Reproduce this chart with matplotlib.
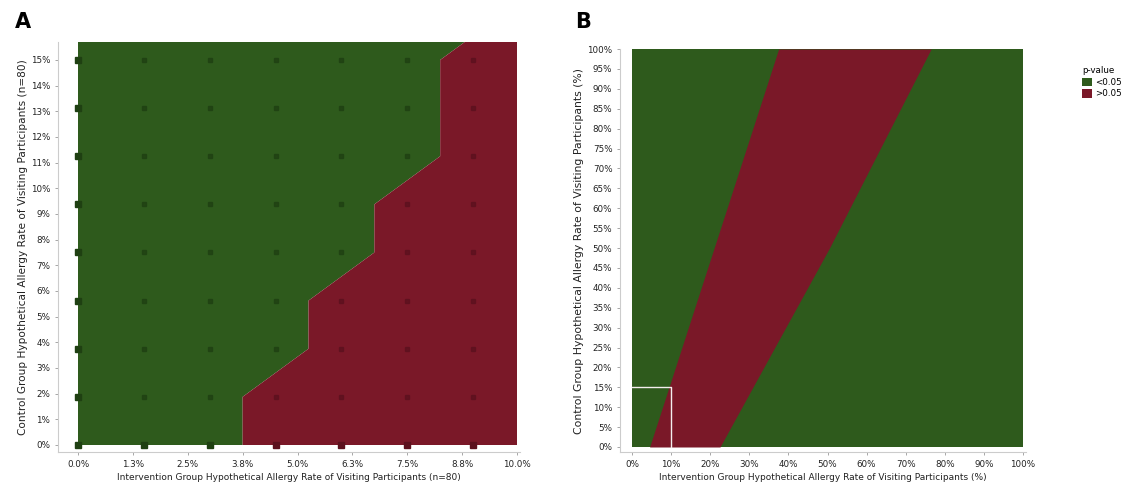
import matplotlib
matplotlib.use("Agg")
import matplotlib.pyplot as plt
import numpy as np
from matplotlib.patches import Rectangle, Patch

# ---------------- data ----------------
# Panel A: grid of hypothetical rates (%), last column / row extend past the visible range
a_x = [0.0, 1.5, 3.0, 4.5, 6.0, 7.5, 9.0, 10.5]
a_y = [0.0, 1.875, 3.75, 5.625, 7.5, 9.375, 11.25, 13.125, 15.0, 16.875]
# 1 = p > 0.05 (not significant), 0 = p < 0.05
a_nonsig = [
    [0, 0, 0, 1, 1, 1, 1, 1],
    [0, 0, 0, 1, 1, 1, 1, 1],
    [0, 0, 0, 0, 1, 1, 1, 1],
    [0, 0, 0, 0, 1, 1, 1, 1],
    [0, 0, 0, 0, 0, 1, 1, 1],
    [0, 0, 0, 0, 0, 1, 1, 1],
    [0, 0, 0, 0, 0, 0, 1, 1],
    [0, 0, 0, 0, 0, 0, 1, 1],
    [0, 0, 0, 0, 0, 0, 1, 1],
    [0, 0, 0, 0, 0, 0, 0, 1],
]
a_xticks = [0.0, 1.25, 2.5, 3.75, 5.0, 6.25, 7.5, 8.75, 10.0]
a_xticklabels = ["0.0%", "1.3%", "2.5%", "3.8%", "5.0%", "6.3%", "7.5%", "8.8%", "10.0%"]
a_yticks = list(range(0, 16))
a_yticklabels = [f"{v}%" for v in a_yticks]
a_xmax, a_ymax = 10.0, 15.7

# Panel B: boundaries of the non-significant band (x in %, at given y in %)
b_y = [0, 50, 100]
b_left = [4.5, 21.0, 37.5]
b_right = [22.5, 50.5, 76.5]
b_xticks = list(range(0, 101, 10))
b_yticks = list(range(0, 101, 5))
box_x, box_y = 10.0, 15.0

green = "#2e5a1c"
red = "#7a1828"
dark_green = "#1f4012"
dark_red = "#5c111e"
spine_col = "#cccccc"

W, H = 1129, 493
fig = plt.figure(figsize=(W / 100, H / 100), dpi=100)

def px_axes(l, t, r, b):
    return fig.add_axes([l / W, 1 - b / H, (r - l) / W, (b - t) / H])

def style(ax):
    for s in ("top", "right"):
        ax.spines[s].set_visible(False)
    for s in ("left", "bottom"):
        ax.spines[s].set_color(spine_col)
        ax.spines[s].set_linewidth(0.8)
    ax.tick_params(colors="#999999", labelcolor="#222222", labelsize=6.3, length=2, width=0.6)

# ---------------- Panel A ----------------
axA = px_axes(58, 42, 520, 452)
style(axA)
Z = np.array(a_nonsig, dtype=float)
cs = axA.contourf(a_x, a_y, Z, levels=[-0.5, 0.5, 1.5], colors=[green, red], antialiased=True)
clip = Rectangle((0, 0), a_xmax, a_ymax, transform=axA.transData, visible=False)
axA.add_patch(clip)
cs.set_clip_path(clip)
for j, yv in enumerate(a_y[:9]):
    for i, xv in enumerate(a_x[:7]):
        c = dark_red if a_nonsig[j][i] else dark_green
        edge = (i == 0 or j == 0)
        axA.plot(xv, yv, marker="s", ms=4 if edge else 3.2, color=c, mec=c,
                 alpha=1.0 if edge else 0.8, clip_on=False, zorder=3)
px_x = (517 - 78) / a_xmax
px_y = (445 - 42) / a_ymax
axA.set_xlim(-20 / px_x, a_xmax + 3 / px_x)
axA.set_ylim(-7 / px_y, a_ymax)
axA.set_xticks(a_xticks)
axA.set_xticklabels(a_xticklabels)
axA.set_yticks(a_yticks)
axA.set_yticklabels(a_yticklabels)
axA.set_xlabel("Intervention Group Hypothetical Allergy Rate of Visiting Participants (n=80)",
               fontsize=6.5, color="#222222", labelpad=3)
axA.set_ylabel("Control Group Hypothetical Allergy Rate of Visiting Participants (n=80)",
               fontsize=7.6, color="#222222", labelpad=2)
fig.text(15 / W, 1 - 22 / H, "A", fontsize=15, fontweight="bold", va="center", ha="left")

# ---------------- Panel B ----------------
axB = px_axes(620, 49, 1026, 452)
style(axB)
axB.add_patch(Rectangle((0, 0), 100, 100, facecolor=green, edgecolor="none", zorder=0))
axB.fill_betweenx(b_y, b_left, b_right, color=red, lw=0, zorder=1)
axB.plot([0, box_x, box_x], [box_y, box_y, 0], color="#f4eeee", lw=1.0, zorder=2)
pbx = (1023 - 632) / 100
pby = (447 - 49) / 100
axB.set_xlim(-12 / pbx, 100 + 3 / pbx)
axB.set_ylim(-5 / pby, 100)
axB.set_xticks(b_xticks)
axB.set_xticklabels([f"{v}%" for v in b_xticks])
axB.set_yticks(b_yticks)
axB.set_yticklabels([f"{v}%" for v in b_yticks])
axB.set_xlabel("Intervention Group Hypothetical Allergy Rate of Visiting Participants (%)",
               fontsize=6.5, color="#222222", labelpad=3)
axB.set_ylabel("Control Group Hypothetical Allergy Rate of Visiting Participants (%)",
               fontsize=7.8, color="#222222", labelpad=2)
fig.text(575 / W, 1 - 22 / H, "B", fontsize=15, fontweight="bold", va="center", ha="left")

handles = [Patch(facecolor=green, edgecolor="none", label="<0.05"),
           Patch(facecolor=red, edgecolor="none", label=">0.05")]
leg = fig.legend(handles=handles, title="p-value", loc="upper left",
                 bbox_to_anchor=(1074 / W, 1 - 58 / H), frameon=False,
                 fontsize=6.3, title_fontsize=6.3, handlelength=1.1, handleheight=1.1,
                 handletextpad=0.4, labelspacing=0.3, alignment="left")

fig.savefig("out.png", dpi=100)
